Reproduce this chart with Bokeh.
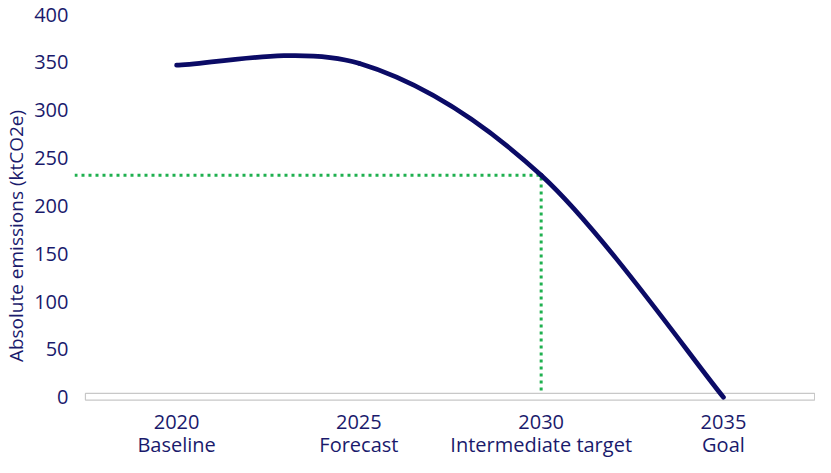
from bokeh.plotting import figure
from bokeh.models import FixedTicker, Range1d, ColumnDataSource
from bokeh.core.properties import value
from bokeh.embed import file_html
from bokeh.resources import INLINE

# ---- data ----
years = ["2020", "2025", "2030", "2035"]
stages = ["Baseline", "Forecast", "Intermediate target", "Goal"]
emissions = [347, 349, 232, 0]          # ktCO2e
target_index = 2                          # 2030 intermediate target
y_ticks = [0, 50, 100, 150, 200, 250, 300, 350, 400]
y_label = "Absolute emissions (ktCO2e)"

# ---- styles ----
NAVY = "#0b0b66"
TEXT = "#1a1a6c"
GREEN = "#1fb04f"
FONT = "Open Sans"
X_START = -0.56
X_END = 3.505
Y_MIN = -63

xs = list(range(len(years)))

p = figure(width=815, height=457, output_backend="svg", toolbar_location=None,
           x_range=Range1d(X_START, X_END), y_range=Range1d(Y_MIN, 400),
           x_axis_location=None, min_border_left=60, min_border_right=0,
           min_border_top=14, min_border_bottom=0)
p.grid.visible = False
p.outline_line_color = None
p.background_fill_color = "white"

# horizontal axis box
p.quad(left=xs[0] - 0.5, right=xs[-1] + 0.5, bottom=-3, top=4,
       fill_color="white", line_color="#c8c8c8", line_width=1.2)

# dotted guide lines to the intermediate target
tx = xs[target_index]
ty = emissions[target_index]
p.line(x=[X_START, tx, tx], y=[ty, ty, 4], line_color=GREEN, line_width=3,
       line_dash="3 4")

# smoothed curve (Excel-style Bezier smoothing through the data points)
x0s, y0s, x1s, y1s, cx0s, cy0s, cx1s, cy1s = [], [], [], [], [], [], [], []
n = len(xs)
for i in range(n - 1):
    pxp, pyp = (xs[i - 1], emissions[i - 1]) if i > 0 else (xs[i], emissions[i])
    pxn, pyn = (xs[i + 2], emissions[i + 2]) if i + 2 < n else (xs[i + 1], emissions[i + 1])
    x0s.append(xs[i]); y0s.append(emissions[i])
    x1s.append(xs[i + 1]); y1s.append(emissions[i + 1])
    cx0s.append(xs[i] + (xs[i + 1] - pxp) / 6); cy0s.append(emissions[i] + (emissions[i + 1] - pyp) / 6)
    cx1s.append(xs[i + 1] - (pxn - xs[i]) / 6); cy1s.append(emissions[i + 1] - (pyn - emissions[i]) / 6)
p.bezier(x0=x0s, y0=y0s, x1=x1s, y1=y1s, cx0=cx0s, cy0=cy0s, cx1=cx1s, cy1=cy1s,
         line_color=NAVY, line_width=4.7, line_cap="round")

# category labels under the axis box (year on top, stage below)
src = ColumnDataSource(dict(x=xs, y=[0] * len(xs), year=years, stage=stages))
p.text(x="x", y="y", text="year", source=src, y_offset=25,
       text_align="center", text_baseline="middle", text_font=value(FONT),
       text_font_size="20px", text_color=TEXT)
p.text(x="x", y="y", text="stage", source=src, y_offset=47,
       text_align="center", text_baseline="middle", text_font=value(FONT),
       text_font_size="20px", text_color=TEXT)

# y axis
ya = p.yaxis[0]
ya.ticker = FixedTicker(ticks=y_ticks)
ya.axis_line_color = None
ya.major_tick_line_color = None
ya.minor_tick_line_color = None
ya.major_tick_out = 0
ya.major_tick_in = 0
ya.major_label_standoff = 6
ya.major_label_text_font = FONT
ya.major_label_text_font_size = "20px"
ya.major_label_text_color = TEXT
ya.axis_label = y_label
ya.axis_label_text_font = FONT
ya.axis_label_text_font_size = "19px"
ya.axis_label_text_font_style = "normal"
ya.axis_label_text_color = TEXT
ya.axis_label_standoff = 2

open("out.html", "w").write(file_html(p, INLINE))
